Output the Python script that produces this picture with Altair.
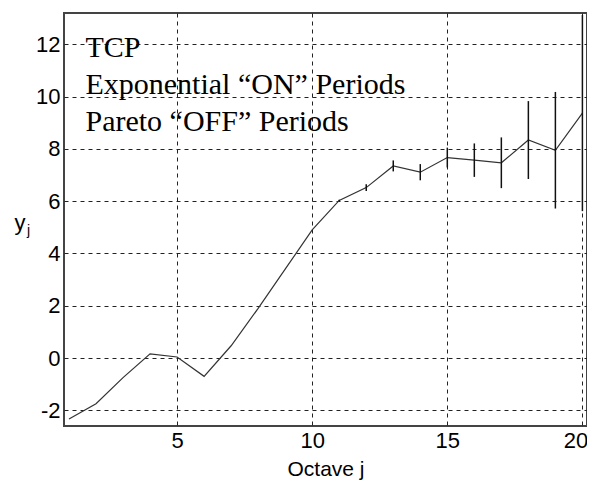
import altair as alt
import pandas as pd

# ---- data ----
octave = list(range(1, 21))
yj = [-2.33, -1.75, -0.75, 0.16, 0.04, -0.70, 0.47, 1.90, 3.40, 4.90,
      6.03, 6.52, 7.35, 7.11, 7.67, 7.57, 7.47, 8.34, 7.95, 9.37]
err = [0, 0, 0, 0, 0, 0, 0, 0, 0, 0,
       0.03, 0.13, 0.21, 0.31, 0.38, 0.64, 0.97, 1.49, 2.23, 3.75]

x_ticks = [5, 10, 15, 20]
y_ticks = [-2, 0, 2, 4, 6, 8, 10, 12]

note_text = ["TCP", "Exponential \u201cON\u201d Periods", "Pareto \u201cOFF\u201d Periods"]
note_x = [1.61, 1.61, 1.61]
note_y = [11.51, 10.10, 8.70]

df = pd.DataFrame({
    "j": octave,
    "y": yj,
    "lo": [a - b for a, b in zip(yj, err)],
    "hi": [a + b for a, b in zip(yj, err)],
    "err": err,
})
notes = pd.DataFrame({"t": note_text, "x": note_x, "y": note_y})

xscale = alt.Scale(domain=[0.815, 20.17], nice=False, zero=False)
yscale = alt.Scale(domain=[-2.6, 13.2], nice=False, zero=False)

line = alt.Chart(df).mark_line(color="#333333", strokeWidth=1.2, clip=True).encode(
    x=alt.X("j:Q", scale=xscale,
            axis=alt.Axis(values=x_ticks, title="Octave j", titlePadding=7,
                          labelExpr="'' + datum.value",
                          labelOffset={"condition": {"test": "datum.value == 20", "value": -7},
                                       "value": 0})),
    y=alt.Y("y:Q", scale=yscale,
            axis=alt.Axis(values=y_ticks, title="y", titleAngle=0,
                          titleAlign="left", titleBaseline="alphabetic",
                          titleX=-50, titleY=216,
                          labelExpr="'' + datum.value")),
)

bars = alt.Chart(df).transform_filter("datum.err > 0").mark_rule(
    color="#111111", strokeWidth=1.5, clip=True
).encode(
    x=alt.X("j:Q", scale=xscale),
    y=alt.Y("lo:Q", scale=yscale),
    y2="hi:Q",
)

text = alt.Chart(notes).mark_text(
    align="left", baseline="alphabetic", font="Liberation Serif",
    fontSize=30, color="#000000"
).encode(
    x=alt.X("x:Q", scale=xscale),
    y=alt.Y("y:Q", scale=yscale),
    text="t:N",
)

sub = alt.Chart(pd.DataFrame({"t": ["j"]})).mark_text(
    align="left", baseline="alphabetic", font="Liberation Sans",
    fontSize=14, color="#000000"
).encode(x=alt.value(-37), y=alt.value(222), text="t:N")

chart = alt.layer(line, bars, text, sub).properties(
    width=523, height=413,
    autosize=alt.AutoSizeParams(type="none"),
    padding={"left": 56, "top": 5, "right": 0, "bottom": 55},
).configure_view(
    stroke="#444444", strokeWidth=2
).configure_axis(
    grid=True, gridColor="#222222", gridDash=[4, 4], gridWidth=1, gridOpacity=1,
    domain=False, ticks=False,
    labelFont="Liberation Sans", labelFontSize=22, labelColor="#000000",
    titleFont="Liberation Sans", titleFontSize=21, titleFontWeight="normal",
    titleColor="#000000", labelPadding=4,
).configure_axisY(titleFontSize=22)

chart.save("out.html", embed_options={"renderer": "svg", "actions": False})
